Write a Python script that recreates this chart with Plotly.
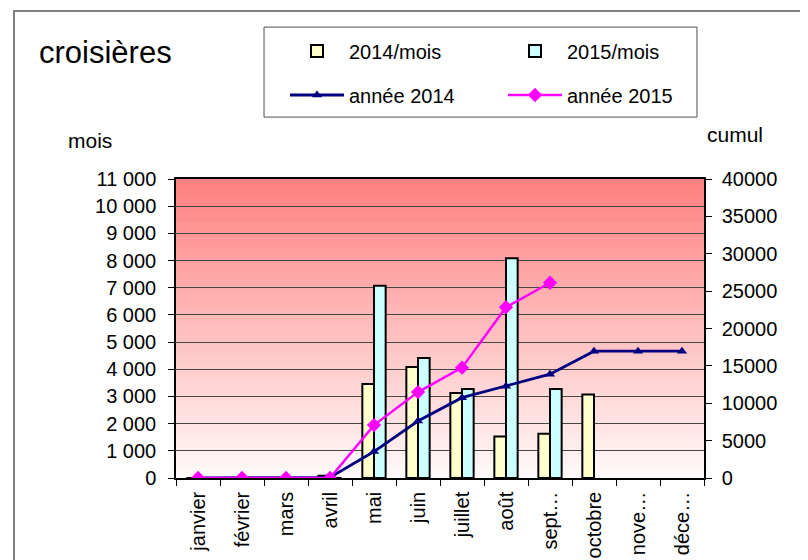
import plotly.graph_objects as go

months = ["janvier", "février", "mars", "avril", "mai", "juin", "juillet",
          "août", "sept…", "octobre", "nove…", "déce…"]
mois_2014 = [0, 0, 0, 80, 3457, 4085, 3125, 1525, 1624, 3075, None, None]
mois_2015 = [0, 0, 0, 0, 7075, 4417, 3273, 8082, 3273, None, None, None]
cumul_2014 = [0, 0, 0, 80, 3537, 7622, 10747, 12272, 13896, 16971, 16971, 16971]
cumul_2015 = [0, 0, 0, 0, 7075, 11492, 14765, 22847, 26120, None, None, None]
left_ticks = list(range(0, 11001, 1000))
right_ticks = list(range(0, 40001, 5000))

FONT = "Liberation Sans, Arial, sans-serif"

fig = go.Figure()
fig.add_trace(go.Bar(x=months, y=mois_2014, name="2014/mois",
                     marker=dict(color="#FFFFCC", line=dict(color="black", width=2)),
                     legend="legend"))
fig.add_trace(go.Bar(x=months, y=mois_2015, name="2015/mois",
                     marker=dict(color="#CCFFFF", line=dict(color="black", width=2)),
                     legend="legend"))
fig.add_trace(go.Scatter(x=months, y=cumul_2014, name="année 2014", yaxis="y2",
                         mode="lines+markers",
                         line=dict(color="#000080", width=2.8),
                         marker=dict(symbol="triangle-up", size=9, color="#000080"),
                         legend="legend2"))
fig.add_trace(go.Scatter(x=months, y=cumul_2015, name="année 2015", yaxis="y2",
                         mode="lines+markers",
                         line=dict(color="#FF00FF", width=2.5),
                         marker=dict(symbol="diamond", size=11, color="#FF00FF"),
                         legend="legend2"))

# gradient background bands
shapes = []
N = 80
top = (255, 128, 128)
bot = (255, 250, 250)
for i in range(N):
    t = i / (N - 1)
    c = tuple(int(round(bot[k] + (top[k] - bot[k]) * t)) for k in range(3))
    shapes.append(dict(type="rect", xref="x domain", yref="y domain",
                       x0=0, x1=1, y0=i / N, y1=(i + 1) / N + 0.002,
                       fillcolor="rgb(%d,%d,%d)" % c, line=dict(width=0),
                       layer="below"))
# outer chart border
shapes.append(dict(type="rect", xref="paper", yref="paper",
                   x0=-0.3068, x1=1.4, y0=-0.6, y1=1.562,
                   line=dict(color="#808080", width=2), fillcolor="rgba(0,0,0,0)"))
# legend box
shapes.append(dict(type="rect", xref="paper", yref="paper",
                   x0=0.1667, x1=0.9867, y0=1.207, y1=1.508,
                   line=dict(color="#505050", width=1), fillcolor="rgba(0,0,0,0)"))

leg_common = dict(orientation="h", xanchor="left", yanchor="middle",
                  entrywidth=149, bgcolor="rgba(0,0,0,0)",
                  font=dict(size=20), itemwidth=54, traceorder="normal")

fig.update_layout(
    width=808, height=560,
    margin=dict(l=168, r=112, t=171, b=90),
    paper_bgcolor="white", plot_bgcolor="rgba(0,0,0,0)",
    font=dict(family=FONT, size=20, color="black"),
    separators=". ",
    barmode="group", bargap=0.47, bargroupgap=0,
    showlegend=True,
    shapes=shapes,
    xaxis=dict(type="category", range=[-0.5, 11.5], tickson="boundaries",
               ticks="outside", ticklen=6, tickcolor="black", tickangle=-90,
               ticklabelstandoff=4,
               showline=True, linecolor="black", linewidth=1.5, mirror=True,
               showgrid=False, tickfont=dict(size=20), automargin=False),
    yaxis=dict(range=[0, 11000], tickvals=left_ticks, tickformat=",d",
               ticks="outside", ticklen=6, tickcolor="black",
               ticklabelstandoff=8,
               showline=True, linecolor="black", linewidth=1.5,
               showgrid=True, gridcolor="#454545", gridwidth=1,
               zeroline=False, tickfont=dict(size=20), automargin=False),
    yaxis2=dict(range=[0, 40000], tickvals=right_ticks, tickformat="d",
                overlaying="y", side="right",
                ticks="outside", ticklen=6, tickcolor="black",
                ticklabelstandoff=6,
                showline=True, linecolor="black", linewidth=1.5,
                showgrid=False, zeroline=False, tickfont=dict(size=20),
                automargin=False),
    legend=dict(x=0.2064, y=1.428, **leg_common),
    legend2=dict(x=0.2064, y=1.281, **leg_common),
    annotations=[
        dict(text="croisières", xref="paper", yref="paper", x=-0.2633, y=1.424,
             xanchor="left", yanchor="middle", showarrow=False,
             font=dict(size=31)),
        dict(text="mois", xref="paper", yref="paper", x=-0.2083, y=1.130,
             xanchor="left", yanchor="middle", showarrow=False,
             font=dict(size=21)),
        dict(text="cumul", xref="paper", yref="paper", x=1.0019, y=1.150,
             xanchor="left", yanchor="middle", showarrow=False,
             font=dict(size=21)),
    ],
)

fig.write_html("out.html")
